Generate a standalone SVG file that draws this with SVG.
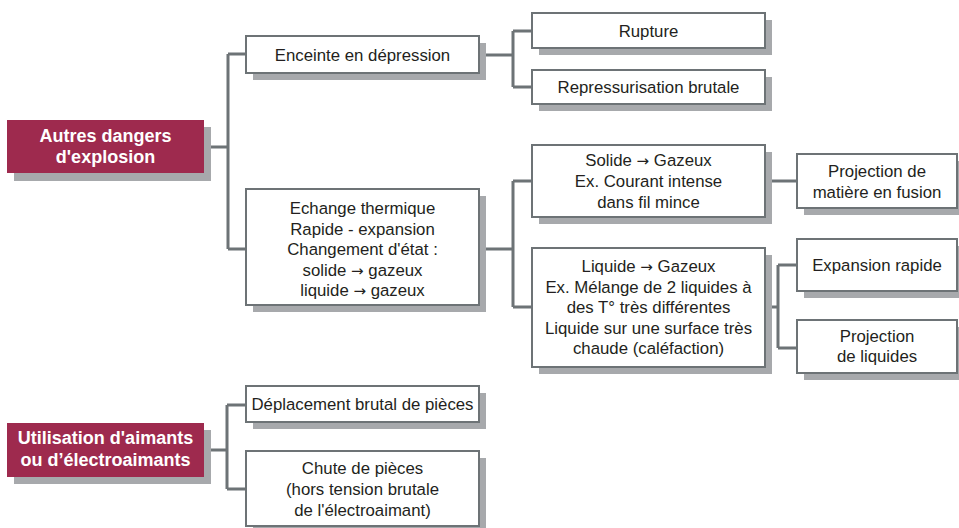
<svg xmlns="http://www.w3.org/2000/svg" width="959" height="528" viewBox="0 0 959 528">
  <style>
    .shadow { fill: #a7a9ac; }
    .box { fill: #ffffff; stroke: #6d7376; stroke-width: 2; }
    .root { fill: #9e2a4e; }
    .label { font-family: "Liberation Sans", Arial, sans-serif; font-size: 16.8px; fill: #231f20; text-anchor: middle; }
    .title { font-family: "Liberation Sans", Arial, sans-serif; font-size: 18px; font-weight: bold; fill: #ffffff; text-anchor: middle; }
    .arrow { font-family: "DejaVu Sans", sans-serif; font-size: 15px; }
    .link { fill: none; stroke: #6d7376; stroke-width: 3; }
  </style>

  <!-- connectors -->
  <g id="connectors" class="link">
    <path d="M211 147 H228 M228 54 V249 M228 54 H246 M228 249 H246"/>
    <path d="M486 55 H513 M513 31 V87 M513 31 H532 M513 87 H532"/>
    <path d="M486 249 H513 M513 181 V307 M513 181 H532 M513 307 H532"/>
    <path d="M772 181 H797"/>
    <path d="M772 307 H778 M778 265 V348 M778 265 H797 M778 348 H797"/>
    <path d="M211 450 H227 M227 405 V489 M227 405 H246 M227 489 H246"/>
  </g>

  <!-- Autres dangers d'explosion -->
  <g id="root-explosion">
    <rect class="shadow" x="14" y="127" width="197" height="54"/>
    <rect class="root" x="7" y="120" width="197" height="53"/>
    <text class="title" x="105.5" y="141.5">Autres dangers</text>
    <text class="title" x="105.5" y="163">d'explosion</text>
  </g>

  <g id="enceinte">
    <rect class="shadow" x="253" y="43" width="233" height="37"/>
    <rect class="box" x="246" y="36" width="233" height="37"/>
    <text class="label" x="362.5" y="60.5">Enceinte en dépression</text>
  </g>

  <g id="rupture">
    <rect class="shadow" x="539" y="20" width="233" height="35"/>
    <rect class="box" x="532" y="13" width="233" height="35"/>
    <text class="label" x="648.5" y="36.5">Rupture</text>
  </g>

  <g id="repressurisation">
    <rect class="shadow" x="539" y="77" width="233" height="34"/>
    <rect class="box" x="532" y="70" width="233" height="34"/>
    <text class="label" x="648.5" y="93">Repressurisation brutale</text>
  </g>

  <g id="echange">
    <rect class="shadow" x="253" y="196" width="233" height="116"/>
    <rect class="box" x="246" y="189" width="233" height="116"/>
    <text class="label" x="362.5" y="214">Echange thermique</text>
    <text class="label" x="362.5" y="234.5">Rapide - expansion</text>
    <text class="label" x="362.5" y="255">Changement d'état :</text>
    <text class="label" x="362.5" y="275.5">solide <tspan class="arrow">→</tspan> gazeux</text>
    <text class="label" x="362.5" y="296">liquide <tspan class="arrow">→</tspan> gazeux</text>
  </g>

  <g id="solide">
    <rect class="shadow" x="539" y="152" width="233" height="72"/>
    <rect class="box" x="532" y="145" width="233" height="72"/>
    <text class="label" x="648.5" y="166">Solide <tspan class="arrow">→</tspan> Gazeux</text>
    <text class="label" x="648.5" y="187">Ex. Courant intense</text>
    <text class="label" x="648.5" y="208">dans fil mince</text>
  </g>

  <g id="liquide">
    <rect class="shadow" x="539" y="255" width="233" height="119"/>
    <rect class="box" x="532" y="248" width="233" height="119"/>
    <text class="label" x="648.5" y="272">Liquide <tspan class="arrow">→</tspan> Gazeux</text>
    <text class="label" x="648.5" y="292.5">Ex. Mélange de 2 liquides à</text>
    <text class="label" x="648.5" y="313">des T° très différentes</text>
    <text class="label" x="648.5" y="333.5">Liquide sur une surface très</text>
    <text class="label" x="648.5" y="354">chaude (caléfaction)</text>
  </g>

  <g id="projection-matiere">
    <rect class="shadow" x="804" y="161" width="160" height="54"/>
    <rect class="box" x="797" y="154" width="160" height="54"/>
    <text class="label" x="877" y="177">Projection de</text>
    <text class="label" x="877" y="197.5">matière en fusion</text>
  </g>

  <g id="expansion">
    <rect class="shadow" x="804" y="246" width="160" height="52"/>
    <rect class="box" x="797" y="239" width="160" height="52"/>
    <text class="label" x="877" y="271">Expansion rapide</text>
  </g>

  <g id="projection-liquides">
    <rect class="shadow" x="804" y="327" width="160" height="53"/>
    <rect class="box" x="797" y="320" width="160" height="53"/>
    <text class="label" x="877" y="342">Projection</text>
    <text class="label" x="877" y="362">de liquides</text>
  </g>

  <!-- Utilisation d'aimants -->
  <g id="root-aimants">
    <rect class="shadow" x="14" y="430" width="197" height="54"/>
    <rect class="root" x="7" y="423" width="197" height="54"/>
    <text class="title" x="105.5" y="444">Utilisation d'aimants</text>
    <text class="title" x="105.5" y="466">ou d’électroaimants</text>
  </g>

  <g id="deplacement">
    <rect class="shadow" x="253" y="393" width="233" height="36"/>
    <rect class="box" x="246" y="386" width="233" height="36"/>
    <text class="label" x="362.5" y="410">Déplacement brutal de pièces</text>
  </g>

  <g id="chute">
    <rect class="shadow" x="253" y="458" width="233" height="75"/>
    <rect class="box" x="246" y="451" width="233" height="75"/>
    <text class="label" x="362.5" y="474">Chute de pièces</text>
    <text class="label" x="362.5" y="495">(hors tension brutale</text>
    <text class="label" x="362.5" y="516">de l'électroaimant)</text>
  </g>
</svg>
